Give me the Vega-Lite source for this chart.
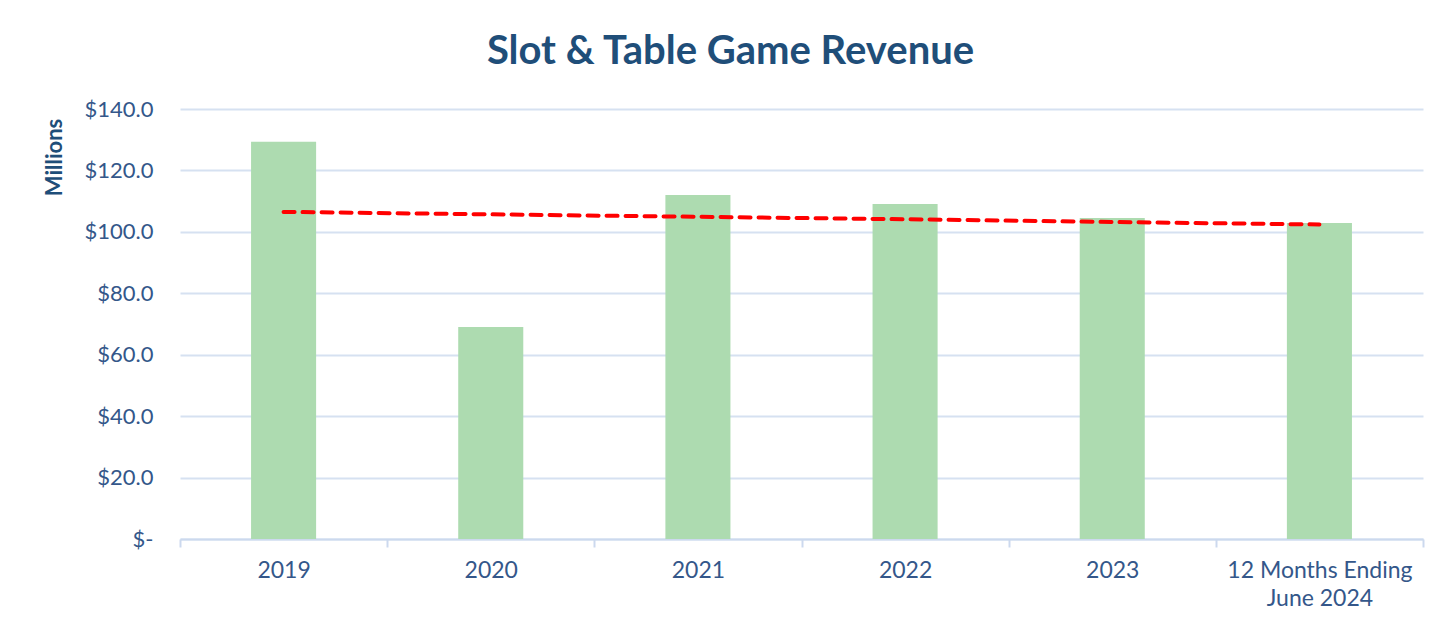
{
  "$schema": "https://vega.github.io/schema/vega-lite/v6.json",
  "width": 1243,
  "height": 430,
  "autosize": "none",
  "padding": {"left": 180, "top": 109, "right": 6, "bottom": 88},
  "background": "white",
  "config": {"view": {"stroke": null}, "font": "Lato"},
  "title": {
    "text": "Slot & Table Game Revenue",
    "font": "Lato",
    "fontSize": 40,
    "fontWeight": "bold",
    "color": "#1F4E79",
    "anchor": "middle",
    "dx": -71,
    "offset": 26
  },
  "data": {
    "values": [
      {"period": "2019", "revenue": 129.3, "trend": 106.5},
      {"period": "2020", "revenue": 69.0, "trend": 105.7},
      {"period": "2021", "revenue": 112.0, "trend": 104.9},
      {"period": "2022", "revenue": 109.1, "trend": 104.1},
      {"period": "2023", "revenue": 104.5, "trend": 103.2},
      {"period": "12 Months Ending June 2024", "revenue": 102.9, "trend": 102.4}
    ]
  },
  "encoding": {
    "x": {
      "field": "period",
      "type": "nominal",
      "sort": null,
      "scale": {"paddingInner": 0, "paddingOuter": 0},
      "axis": {
        "title": null,
        "labelAngle": 0,
        "labelFont": "Lato",
        "labelFontSize": 23,
        "labelColor": "#34578A",
        "labelPadding": 12,
        "labelLineHeight": 28,
        "labelLimit": 400,
        "labelExpr": "datum.label == '12 Months Ending June 2024' ? ['12 Months Ending', 'June 2024'] : datum.label",
        "tickBand": "extent",
        "tickColor": "#CCD9EE",
        "tickWidth": 2,
        "tickSize": 8,
        "domainColor": "#CCD9EE",
        "domainWidth": 2,
        "grid": false
      }
    }
  },
  "layer": [
    {
      "mark": {"type": "bar", "color": "#ADDBB0", "width": {"band": 0.314}},
      "encoding": {
        "y": {
          "field": "revenue",
          "type": "quantitative",
          "scale": {"domain": [0, 140]},
          "axis": {
            "values": [0, 20, 40, 60, 80, 100, 120, 140],
            "labelExpr": "datum.value == 0 ? '$-  ' : '$' + format(datum.value, '.1f')",
            "labelFont": "Lato",
            "labelFontSize": 22,
            "labelColor": "#34578A",
            "labelPadding": 27,
            "ticks": false,
            "domain": false,
            "grid": true,
            "gridColor": "#D6E1F1",
            "gridWidth": 2,
            "title": "Millions",
            "titleFont": "Lato",
            "titleFontSize": 22,
            "titleFontWeight": "bold",
            "titleColor": "#1F4E79",
            "titleY": 48,
            "titleAlign": "center",
            "titlePadding": 18
          }
        }
      }
    },
    {
      "mark": {"type": "line", "color": "#FF0000", "strokeWidth": 4, "strokeDash": [11, 8], "strokeCap": "round"},
      "encoding": {
        "y": {"field": "trend", "type": "quantitative"}
      }
    }
  ]
}
